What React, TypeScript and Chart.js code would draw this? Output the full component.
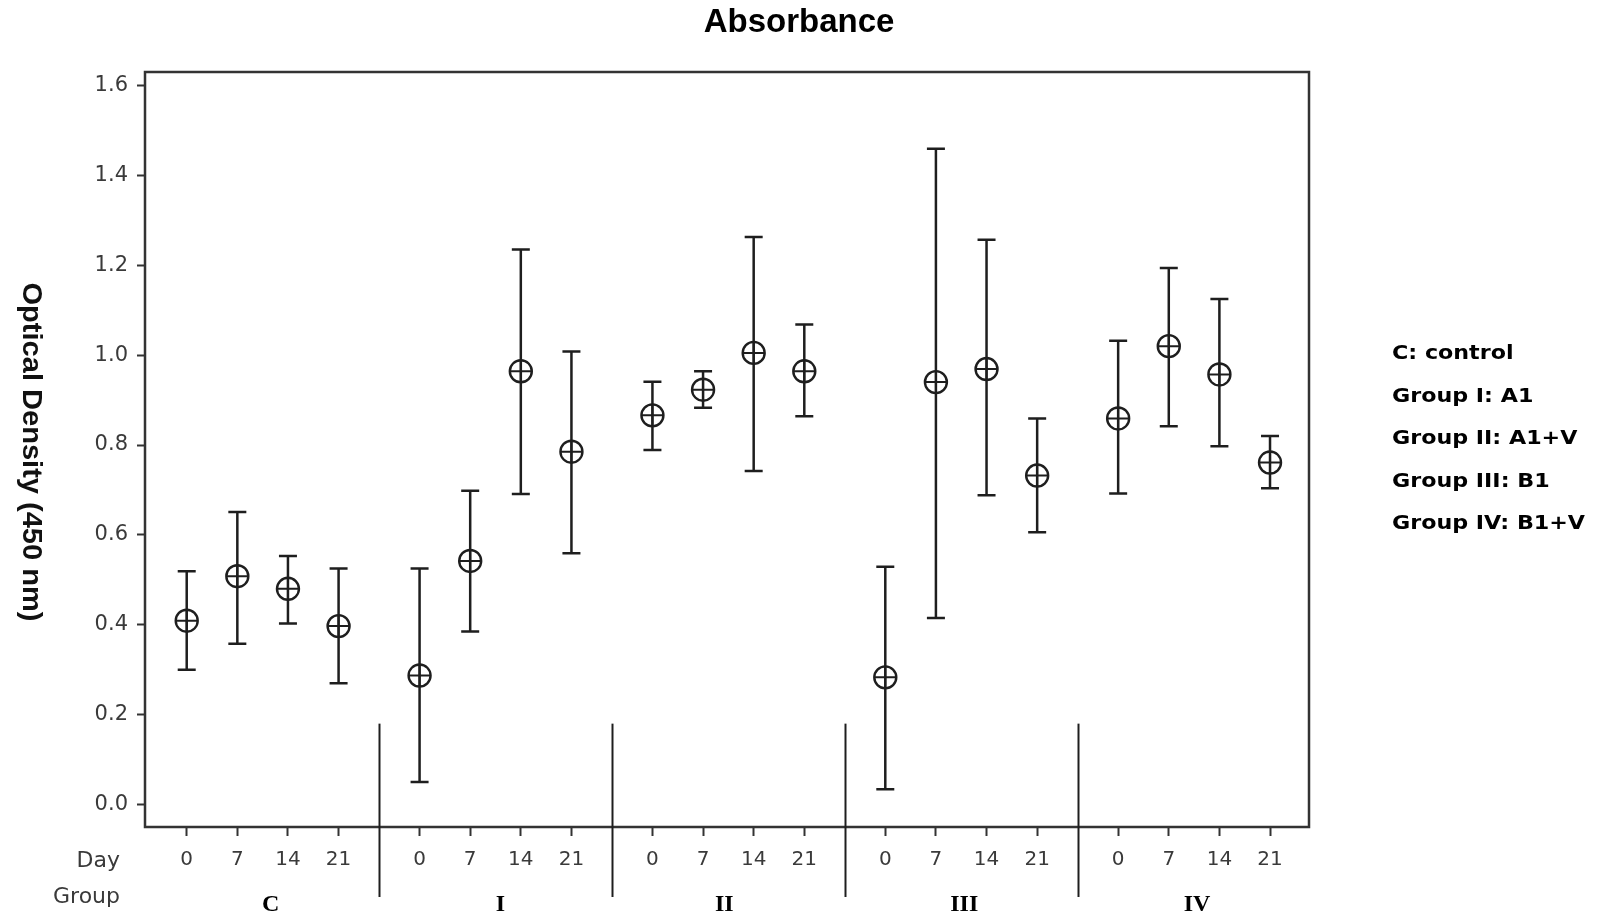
import React, { useEffect, useRef } from "react";
import { Chart, registerables } from "chart.js";

Chart.register(...registerables);

const TITLE = "Absorbance";
const Y_TITLE = "Optical Density (450 nm)";
const GROUPS = ["C", "I", "II", "III", "IV"];
const DAYS = ["0", "7", "14", "21"];
const Y_TICKS = [0, 0.2, 0.4, 0.6, 0.8, 1.0, 1.2, 1.4, 1.6];
const LEGEND_LINES = ["C: control", "Group I: A1", "Group II: A1+V", "Group III: B1", "Group IV: B1+V"];

const MEAN_C = [0.409, 0.508, 0.48, 0.397];
const MEAN_I = [0.287, 0.542, 0.964, 0.785];
const MEAN_II = [0.866, 0.923, 1.005, 0.964];
const MEAN_III = [0.283, 0.94, 0.969, 0.732];
const MEAN_IV = [0.859, 1.02, 0.957, 0.761];

const UPPER_C = [0.519, 0.651, 0.553, 0.525];
const UPPER_I = [0.525, 0.698, 1.235, 1.008];
const UPPER_II = [0.941, 0.964, 1.263, 1.068];
const UPPER_III = [0.529, 1.459, 1.257, 0.859];
const UPPER_IV = [1.032, 1.194, 1.125, 0.82];

const LOWER_C = [0.3, 0.358, 0.403, 0.27];
const LOWER_I = [0.05, 0.385, 0.691, 0.559];
const LOWER_II = [0.789, 0.883, 0.742, 0.864];
const LOWER_III = [0.034, 0.415, 0.688, 0.606];
const LOWER_IV = [0.692, 0.842, 0.797, 0.704];

const MEANS = [MEAN_C, MEAN_I, MEAN_II, MEAN_III, MEAN_IV];
const UPPERS = [UPPER_C, UPPER_I, UPPER_II, UPPER_III, UPPER_IV];
const LOWERS = [LOWER_C, LOWER_I, LOWER_II, LOWER_III, LOWER_IV];

// layout of the grouped x axis (in axis units)
const GROUP_STEP = 4.6;
const SEP_OFFSET = -0.8;
const xPos = (g: number, i: number) => g * GROUP_STEP + i;
const GROUP_LABEL_SHIFT = [8, 5, -4, 3, 3];

const INK = "#1e1e1e";
const AXIS = "#333333";
const LABEL = "#3a3a3a";

export default function App() {
  const ref = useRef<HTMLCanvasElement | null>(null);

  useEffect(() => {
    const canvas = ref.current;
    if (!canvas) return;

    const points: { x: number; y: number; lo: number; hi: number }[] = [];
    MEANS.forEach((arr, g) =>
      arr.forEach((m, i) => points.push({ x: xPos(g, i), y: m, lo: LOWERS[g][i], hi: UPPERS[g][i] }))
    );
    const xTickVals: number[] = [];
    const xTickLabels: Record<string, string> = {};
    GROUPS.forEach((_, g) =>
      DAYS.forEach((d, i) => {
        const v = xPos(g, i);
        xTickVals.push(v);
        xTickLabels[v.toFixed(2)] = d;
      })
    );

    const errorBars = {
      id: "errorBars",
      beforeDatasetsDraw(chart: any) {
        const { ctx } = chart;
        const xs = chart.scales.x;
        const ys = chart.scales.y;
        ctx.save();
        ctx.strokeStyle = INK;
        ctx.lineWidth = 2.5;
        const cap = 9;
        points.forEach((p) => {
          const px = xs.getPixelForValue(p.x);
          const top = ys.getPixelForValue(p.hi);
          const bot = ys.getPixelForValue(p.lo);
          ctx.beginPath();
          ctx.moveTo(px, top);
          ctx.lineTo(px, bot);
          ctx.moveTo(px - cap, top);
          ctx.lineTo(px + cap, top);
          ctx.moveTo(px - cap, bot);
          ctx.lineTo(px + cap, bot);
          ctx.stroke();
        });
        ctx.restore();
      },
    };

    const decorations = {
      id: "decorations",
      afterDraw(chart: any) {
        const { ctx, chartArea } = chart;
        const xs = chart.scales.x;
        const ys = chart.scales.y;
        ctx.save();
        // frame
        ctx.strokeStyle = AXIS;
        ctx.lineWidth = 2.5;
        ctx.strokeRect(chartArea.left, chartArea.top, chartArea.right - chartArea.left, chartArea.bottom - chartArea.top);

        // group separators
        ctx.strokeStyle = INK;
        ctx.lineWidth = 2;
        for (let g = 1; g < GROUPS.length; g++) {
          const px = Math.round(xs.getPixelForValue(g * GROUP_STEP + SEP_OFFSET)) + 0.5;
          ctx.beginPath();
          ctx.moveTo(px, ys.getPixelForValue(0.18));
          ctx.lineTo(px, chartArea.bottom + 70);
          ctx.stroke();
        }

        // title
        ctx.fillStyle = "#000";
        ctx.font = 'bold 33px "Liberation Sans", Arial, sans-serif';
        ctx.textAlign = "center";
        ctx.textBaseline = "middle";
        ctx.fillText(TITLE, 799, 23);

        // y title
        ctx.save();
        ctx.translate(31, 452);
        ctx.rotate(Math.PI / 2);
        ctx.font = 'bold 28px "Liberation Sans", Arial, sans-serif';
        const w = ctx.measureText(Y_TITLE).width;
        ctx.scale(339 / w, 1);
        ctx.fillStyle = "#111";
        ctx.fillText(Y_TITLE, 0, 0);
        ctx.restore();

        // Day / Group labels
        ctx.fillStyle = LABEL;
        ctx.font = '22px "DejaVu Sans", sans-serif';
        ctx.textAlign = "right";
        ctx.fillText("Day", 120, 861);
        ctx.fillText("Group", 120, 897);

        // group names
        ctx.fillStyle = "#000";
        ctx.font = 'bold 24px "Liberation Serif", "Times New Roman", serif';
        ctx.textAlign = "center";
        GROUPS.forEach((name, g) => {
          const cx = xs.getPixelForValue(xPos(g, 1.5)) + GROUP_LABEL_SHIFT[g];
          ctx.fillText(name, cx, 905);
        });

        // legend text
        ctx.font = 'bold 20px "DejaVu Sans", sans-serif';
        ctx.textAlign = "left";
        LEGEND_LINES.forEach((t, k) => {
          ctx.save();
          ctx.translate(1392, 354 + k * 42.5);
          ctx.scale(1.11, 1);
          ctx.fillText(t, 0, 0);
          ctx.restore();
        });
        ctx.restore();
      },
    };

    const chart = new Chart(canvas, {
      type: "scatter",
      data: {
        datasets: [
          {
            data: points.map((p) => ({ x: p.x, y: p.y })),
            pointStyle: "circle",
            pointRadius: 11,
            pointBorderWidth: 2.4,
            pointBorderColor: INK,
            pointBackgroundColor: "rgba(255,255,255,0)",
            showLine: false,
          },
          {
            data: points.map((p) => ({ x: p.x, y: p.y })),
            pointStyle: "cross",
            pointRadius: 11,
            pointBorderWidth: 2,
            pointBorderColor: INK,
            showLine: false,
          },
        ],
      },
      options: {
        animation: false,
        responsive: false,
        maintainAspectRatio: false,
        devicePixelRatio: 1,
        layout: { padding: { left: 0, right: 289, top: 72, bottom: 0 } },
        plugins: {
          legend: { display: false },
          title: { display: false },
          tooltip: { enabled: false },
        },
        scales: {
          x: {
            type: "linear",
            min: -0.824,
            max: 22.17,
            border: { display: false },
            grid: {
              drawOnChartArea: false,
              drawTicks: true,
              tickLength: 9,
              tickColor: AXIS,
              tickWidth: 2,
              color: AXIS,
            },
            afterBuildTicks: (scale: any) => {
              scale.ticks = xTickVals.map((v) => ({ value: v }));
            },
            afterFit: (scale: any) => {
              scale.height = 89;
            },
            ticks: {
              autoSkip: false,
              maxRotation: 0,
              padding: 12,
              color: LABEL,
              font: { family: '"DejaVu Sans", sans-serif', size: 20 },
              callback: (v: any) => xTickLabels[Number(v).toFixed(2)] ?? "",
            },
          },
          y: {
            type: "linear",
            min: -0.05,
            max: 1.63,
            border: { display: false },
            grid: {
              drawOnChartArea: false,
              drawTicks: true,
              tickLength: 8,
              tickColor: AXIS,
              tickWidth: 2,
              color: AXIS,
            },
            afterBuildTicks: (scale: any) => {
              scale.ticks = Y_TICKS.map((v) => ({ value: v }));
            },
            afterFit: (scale: any) => {
              scale.width = 145;
            },
            ticks: {
              padding: 9,
              color: LABEL,
              font: { family: '"DejaVu Sans", sans-serif', size: 21 },
              callback: (v: any) => Number(v).toFixed(1),
            },
          },
        },
      },
      plugins: [errorBars, decorations],
    });

    return () => chart.destroy();
  }, []);

  return (
    <div style={{ position: "absolute", left: 0, top: 0, width: 1598, height: 916, background: "#fff" }}>
      <canvas ref={ref} width={1598} height={916} style={{ display: "block" }} />
    </div>
  );
}
